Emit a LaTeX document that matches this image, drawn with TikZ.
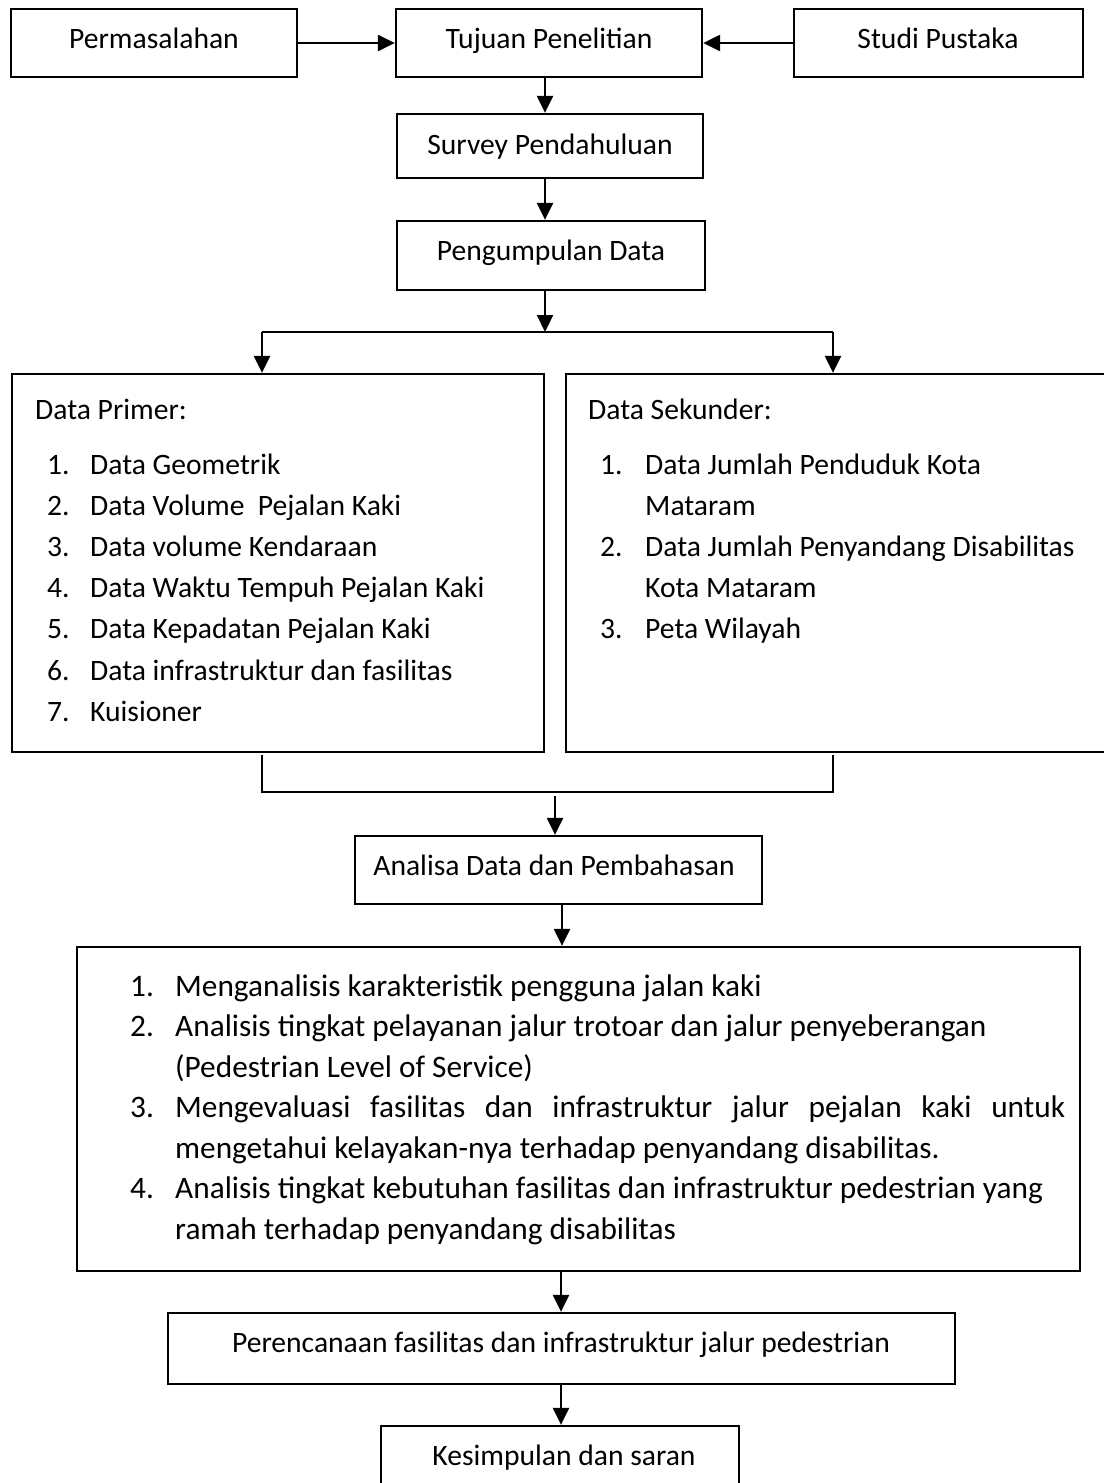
\documentclass[tikz,border=0pt]{standalone}
\usepackage{fontspec}
\setmainfont{Carlito}
\usetikzlibrary{arrows.meta}
\begin{document}
\begin{tikzpicture}[x=1pt,y=-1pt,
  box/.style={draw, line width=2.3pt, inner sep=0pt},
  lbl/.style={inner sep=0pt, anchor=base, font=\fontsize{29.6}{35}\selectfont},
  lft/.style={inner sep=0pt, anchor=base west, font=\fontsize{29.6}{35}\selectfont},
  lftb/.style={inner sep=0pt, anchor=base west, font=\fontsize{31.3}{36}\selectfont},
  arr/.style={line width=2.3pt, -{Triangle[length=17pt,width=16pt]}},
  ln/.style={line width=2.3pt}]
\useasboundingbox (0,0) rectangle (1103,1483);

% boxes
\node[box, minimum width=286pt, minimum height=68pt] (perm) at (154,43) {};
\node[box, minimum width=306pt, minimum height=68pt] (tuj) at (549,43) {};
\node[box, minimum width=289pt, minimum height=68pt] (stu) at (938.5,43) {};
\node[box, minimum width=306pt, minimum height=64pt] (sur) at (550,146) {};
\node[box, minimum width=308pt, minimum height=69pt] (pen) at (551,255.5) {};
\node[box, minimum width=532pt, minimum height=378pt] (pri) at (278,563) {};
\node[box, minimum width=540pt, minimum height=378pt] (sek) at (836,563) {};
\node[box, minimum width=407pt, minimum height=68pt] (ana) at (558.5,870) {};
\node[box, minimum width=1003pt, minimum height=324pt] (big) at (578.5,1109) {};
\node[box, minimum width=787pt, minimum height=71pt] (per) at (561.5,1348.5) {};
\node[box, minimum width=358pt, minimum height=74pt] (kes) at (560,1463) {};

% labels
\node[lbl] (perm-t) at (154,48) {Permasalahan};
\node[lbl] (tuj-t) at (549,48) {Tujuan Penelitian};
\node[lbl] (stu-t) at (938,48) {Studi Pustaka};
\node[lbl] (sur-t) at (550,154) {Survey Pendahuluan};
\node[lbl] (pen-t) at (551,260) {Pengumpulan Data};
\node[lbl] (ana-t) at (554,875) {Analisa Data dan Pembahasan};
\node[lbl] (per-t) at (561,1352) {Perencanaan fasilitas dan infrastruktur jalur pedestrian};
\node[lbl] (kes-t) at (564,1465) {Kesimpulan dan saran};

% Data Primer
\node[lft] (pri-h) at (35,419) {Data Primer:};
\foreach \n/\t [count=\i from 0] in {1/Data Geometrik,2/Data Volume\ \ Pejalan Kaki,3/Data volume Kendaraan,4/Data Waktu Tempuh Pejalan Kaki,5/Data Kepadatan Pejalan Kaki,6/Data infrastruktur dan fasilitas,7/Kuisioner}{
  \node[lft] (pri-n\n) at (47,474+41.2*\i) {\n.};
  \node[lft] (pri-t\n) at (90,474+41.2*\i) {\t};
}

% Data Sekunder
\node[lft] (sek-h) at (588,419) {Data Sekunder:};
\node[lft] (sek-n1) at (600,474) {1.};
\node[lft] (sek-t1) at (645,474) {Data Jumlah Penduduk Kota};
\node[lft] (sek-t1b) at (645,515.2) {Mataram};
\node[lft] (sek-n2) at (600,556.4) {2.};
\node[lft] (sek-t2) at (645,556.4) {Data Jumlah Penyandang Disabilitas};
\node[lft] (sek-t2b) at (645,597.6) {Kota Mataram};
\node[lft] (sek-n3) at (600,638.8) {3.};
\node[lft] (sek-t3) at (645,638.8) {Peta Wilayah};

% big box list
\node[lftb] (b-n1) at (130,996) {1.};
\node[lftb] (b-t1) at (175,996) {Menganalisis karakteristik pengguna jalan kaki};
\node[lftb] (b-n2) at (130,1036.5) {2.};
\node[lftb] (b-t2) at (175,1036.5) {Analisis tingkat pelayanan jalur trotoar dan jalur penyeberangan};
\node[lftb] (b-t2b) at (175,1077) {(Pedestrian Level of Service)};
\node[lftb] (b-n3) at (130,1117.5) {3.};
\node[lftb] (b-t3) at (175,1117.5) {\makebox[890pt][s]{Mengevaluasi fasilitas dan infrastruktur jalur pejalan kaki untuk}};
\node[lftb] (b-t3b) at (175,1158) {mengetahui kelayakan-nya terhadap penyandang disabilitas.};
\node[lftb] (b-n4) at (130,1198.5) {4.};
\node[lftb] (b-t4) at (175,1198.5) {Analisis tingkat kebutuhan fasilitas dan infrastruktur pedestrian yang};
\node[lftb] (b-t4b) at (175,1239) {ramah terhadap penyandang disabilitas};

% connectors
\draw[arr] (perm.east) -- (tuj.west);
\draw[arr] (stu.west) -- (tuj.east);
\draw[arr] (tuj.south -| 545,0) -- (sur.north -| 545,0);
\draw[arr] (sur.south -| 545,0) -- (pen.north -| 545,0);
\coordinate (bl) at (262,332);
\coordinate (br) at (833,332);
\draw[arr] (pen.south -| 545,0) -- (545,332);
\draw[ln] (bl) -- (br);
\draw[arr] (bl) -- (bl |- pri.north);
\draw[arr] (br) -- (br |- sek.north);
\coordinate (ml) at (262,755);
\coordinate (mr) at (833,755);
\draw[ln] (ml) -- (262,792) -- (833,792) -- (mr);
\coordinate (ms) at (555,796);
\draw[arr] (ms) -- (ms |- ana.north);
\draw[arr] (ana.south -| 562,0) -- (big.north -| 562,0);
\draw[arr] (big.south -| 561,0) -- (per.north -| 561,0);
\draw[arr] (per.south -| 561,0) -- (kes.north -| 561,0);
\end{tikzpicture}
\end{document}
